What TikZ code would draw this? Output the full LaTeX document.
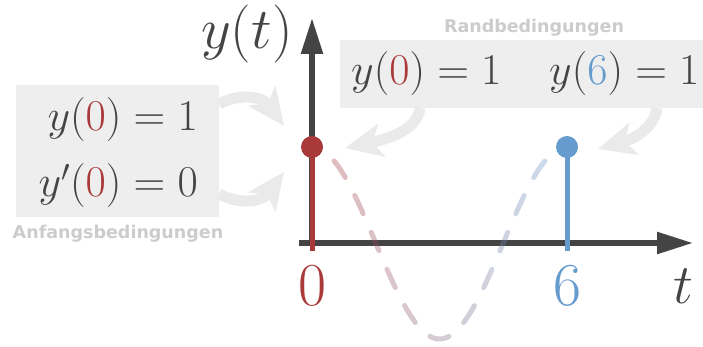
\documentclass[tikz,border=0pt]{standalone}
\usepackage{fix-cm}
\usepackage[no-math]{fontspec}
\usetikzlibrary{arrows.meta}
\newfontfamily\lblfont{DejaVu Sans}
\definecolor{myred}{RGB}{170,57,57}
\definecolor{myblue}{RGB}{102,155,206}
\definecolor{txtgray}{RGB}{68,68,68}
\definecolor{boxgray}{RGB}{238,238,238}
\definecolor{arrgray}{RGB}{234,234,234}
\definecolor{lblgray}{RGB}{204,204,204}
\tikzset{
  bigbox/.style={fill=boxgray, inner sep=0pt},
  garrow/.style={draw=arrgray, line width=11pt, -{Stealth[length=37pt,width=33pt,inset=9pt]}},
  axisline/.style={draw=txtgray, line width=5.5pt, -{Triangle[length=36pt,width=21pt]}},
  stem/.style={line width=5pt},
  eqtext/.style={inner sep=0pt, text=txtgray, font=\fontsize{44}{44}\selectfont},
  bigtext/.style={inner sep=0pt, font=\fontsize{61}{61}\selectfont},
  lbl/.style={inner sep=0pt, text=lblgray, font=\lblfont\bfseries\fontsize{17.5}{17.5}\selectfont},
  curvestyle/.style={line width=5pt, line cap=round, draw opacity=0.35,
     dash pattern=on 20pt off 20.3pt, dash phase=13.3pt}
}
\begin{document}
\begin{tikzpicture}[x=1pt,y=-1pt]
\useasboundingbox (0,0) rectangle (703,347);
% boxes
\node[bigbox, minimum width=203pt, minimum height=132pt] (lbox) at (117.5,151) {};
\node[bigbox, minimum width=363pt, minimum height=68pt] (rbox) at (521.5,74) {};
% labels
\node[lbl, anchor=base] (anf) at (118,238) {Anfangsbedingungen};
\node[lbl, anchor=base] (rand) at (534,33) {Randbedingungen};
% equations
\node[eqtext, anchor=base east] (e1) at (198,131) {$y(\textcolor{myred}{0}) = 1$};
\node[eqtext, anchor=base east] (e2) at (198,197) {$y'(\textcolor{myred}{0}) = 0$};
\node[eqtext, anchor=base west] (e3) at (351,85) {$y(\textcolor{myred}{0}) = 1$};
\node[eqtext, anchor=base west] (e4) at (549,85) {$y(\textcolor{myblue}{6}) = 1$};
% arrow coordinates
\coordinate (a1s) at (219,104);
\coordinate (a1e) at (284,126);
\coordinate (a2s) at (219,194);
\coordinate (a2e) at (284,172);
\coordinate (a3s) at (420,108);
\coordinate (a3e) at (345,148);
\coordinate (a4s) at (657,108);
\coordinate (a4e) at (598,149);
\draw[garrow] (a1s) .. controls (240,93) and (262,96) .. (a1e);
\draw[garrow] (a2s) .. controls (240,205) and (262,202) .. (a2e);
\draw[garrow] (a3s) .. controls (418,124) and (402,136) .. (a3e);
\draw[garrow] (a4s) .. controls (655,124) and (640,137) .. (a4e);
% axes
\coordinate (o) at (312,243);
\coordinate (ytip) at (312,18);
\coordinate (tstart) at (299,243);
\coordinate (ttip) at (693,243);
\draw[axisline] (o) -- (ytip);
\draw[axisline] (tstart) -- (ttip);
% dashed curve with colour gradient
\foreach \i in {0,...,19} {
  \pgfmathsetmacro\pct{100-5*\i-2.5}
  \pgfmathsetmacro\xa{312+12.75*\i-30*(\i==0)}
  \pgfmathsetmacro\xb{312+12.75*(\i+1)+30*(\i==19)}
  \begin{scope}
    \clip (\xa,0) rectangle (\xb,347);
    \draw[curvestyle, draw=myred!\pct!myblue] plot[domain=0:6, samples=120, smooth] ({312+42.5*\x}, {243-96*cos(60*\x)});
  \end{scope}
}
% stems and dots
\coordinate (p0) at (312,147);
\coordinate (p0b) at (312,251);
\coordinate (p6) at (567,147);
\coordinate (p6b) at (567,251);
\draw[stem, myred] (p0b) -- (p0);
\fill[myred] (p0) circle (11pt);
\draw[stem, myblue] (p6b) -- (p6);
\fill[myblue] (p6) circle (11pt);
% axis labels
\node[bigtext, text=myred, anchor=base] (l0) at (312,305) {$0$};
\node[bigtext, text=myblue, anchor=base] (l6) at (567,305) {$6$};
\node[inner sep=0pt, text=txtgray, font=\fontsize{56}{56}\selectfont, anchor=base] (lt) at (683,303) {$t$};
\node[inner sep=0pt, text=txtgray, font=\fontsize{58}{58}\selectfont, anchor=base west] (ly) at (201,49) {$y(t)$};
\end{tikzpicture}
\end{document}
